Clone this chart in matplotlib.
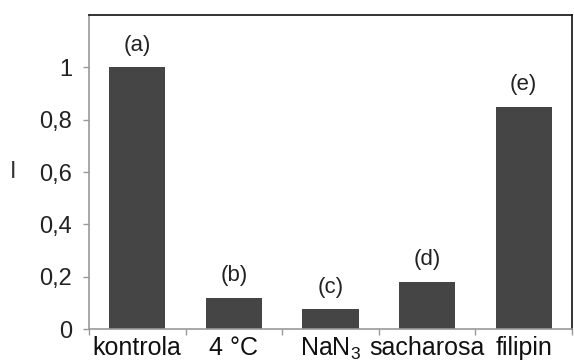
import matplotlib
matplotlib.use("Agg")
import matplotlib.pyplot as plt

plt.rcParams['font.family'] = ['Liberation Sans', 'DejaVu Sans']
plt.rcParams['mathtext.fontset'] = 'custom'
plt.rcParams['mathtext.rm'] = 'Liberation Sans'
plt.rcParams['mathtext.it'] = 'Liberation Sans'
plt.rcParams['mathtext.default'] = 'rm'

# data
categories = ['kontrola', '4 °C', 'NaN$_3$', 'sacharosa', 'filipin']
values = [1.0, 0.12, 0.075, 0.18, 0.85]
letters = ['(a)', '(b)', '(c)', '(d)', '(e)']
yticks = [0, 0.2, 0.4, 0.6, 0.8, 1]
ytick_labels = ['0', '0,2', '0,4', '0,6', '0,8', '1']

fig = plt.figure(figsize=(5.74, 3.61), dpi=100)
ax = fig.add_axes([89/574, 1-329/361, (572-89)/574, (329-15)/361])

x = range(len(categories))
ax.bar(x, values, width=0.58, color='#454545')

for i, (v, t) in enumerate(zip(values, letters)):
    ax.text(i, v + 0.085, t, ha='center', va='center', fontsize=16, color='#222222')

ax.set_xlim(-0.5, len(categories) - 0.5)
ax.set_ylim(0, 1.2)
ax.set_yticks(yticks)
ax.set_yticklabels(ytick_labels, fontsize=17, color='#222222')

# category labels in the middle, tick marks on the boundaries
ax.set_xticks(list(x))
ax.set_xticklabels(categories, fontsize=18, color='#111111')
ax.tick_params(axis='x', length=0, pad=5)
ax.set_xticks([i + 0.5 for i in range(-1, len(categories))], minor=True)
ax.tick_params(axis='x', which='minor', length=4, color='#999999', width=1)
ax.tick_params(axis='y', length=4, color='#999999', width=1, pad=8)

for s in ['left', 'bottom']:
    ax.spines[s].set_color('#999999')
    ax.spines[s].set_linewidth(1.2)
for s in ['top', 'right']:
    ax.spines[s].set_color('#111111')
    ax.spines[s].set_linewidth(1.2)

fig.text(13/574, 1-172/361, 'I', fontsize=17, color='#333333', ha='center', va='center')

fig.savefig('out.png', dpi=100)
